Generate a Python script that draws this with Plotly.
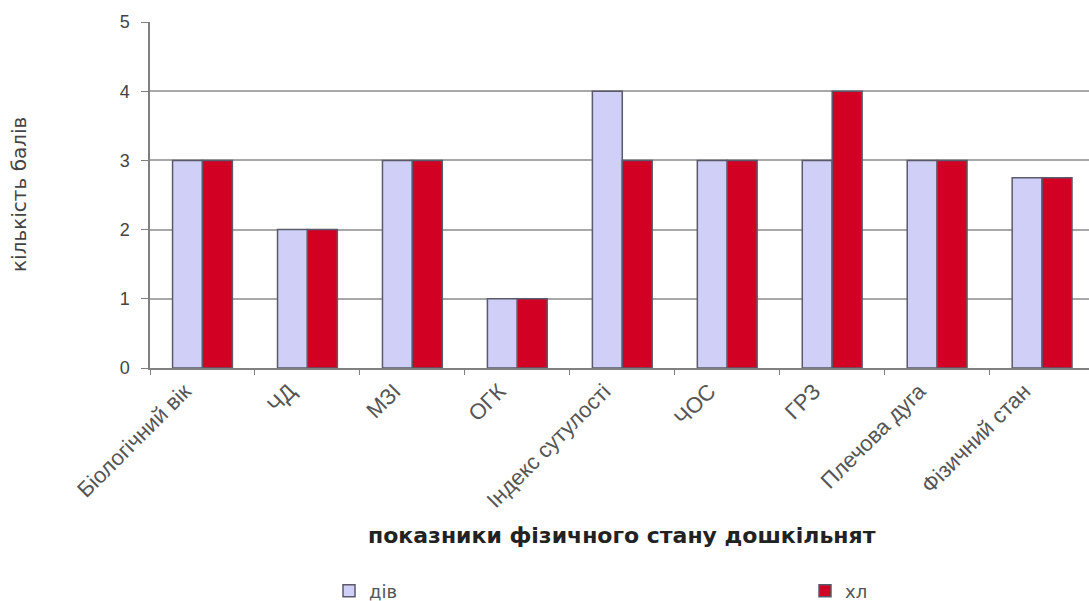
import plotly.graph_objects as go

categories = ["Біологічний вік", "ЧД", "МЗІ", "ОГК", "Індекс сутулості",
              "ЧОС", "ГРЗ", "Плечова дуга", "Фізичний стан"]
girls = [3, 2, 3, 1, 4, 3, 3, 3, 2.75]
boys = [3, 2, 3, 1, 3, 3, 4, 3, 2.75]
series_names = ["дів", "хл"]
y_ticks = [0, 1, 2, 3, 4, 5]
x_title = "показники фізичного стану дошкільнят"
y_title = "кількість балів"

W, H = 1089, 601
L, R, T, B = 150, 0, 22, 233
pw = W - L - R
ph = H - T - B

fig = go.Figure()
fig.add_trace(go.Bar(x=categories, y=girls, name=series_names[0], legend="legend",
                     marker=dict(color="#CFCFF7", line=dict(color="#5a5a6a", width=1.5))))
fig.add_trace(go.Bar(x=categories, y=boys, name=series_names[1], legend="legend2",
                     marker=dict(color="#D20023", line=dict(color="#5a5a6a", width=1.5))))

def px_x(x):
    return (x - L) / pw

def px_y(y):
    return (H - B - y) / ph

legend_font = dict(family="DejaVu Sans", size=18, color="#555")

fig.update_layout(
    width=W, height=H,
    margin=dict(l=L, r=R, t=T, b=B, autoexpand=False),
    paper_bgcolor="white", plot_bgcolor="white",
    barmode="group", bargap=0.43, bargroupgap=0,
    font=dict(family="Liberation Sans, Arial, sans-serif", color="#333"),
    showlegend=True,
    legend=dict(orientation="h", x=px_x(329), y=px_y(591), xanchor="left", yanchor="middle",
                font=legend_font, bgcolor="rgba(0,0,0,0)"),
    legend2=dict(orientation="h", x=px_x(805), y=px_y(591), xanchor="left", yanchor="middle",
                 font=legend_font, bgcolor="rgba(0,0,0,0)"),
    xaxis=dict(
        range=[-0.5, 8.447], type="category",
        showline=True, linecolor="#808080", linewidth=1.5,
        ticks="outside", ticklen=5, tickcolor="#808080", tickson="boundaries",
        tickangle=-45, ticklabelshift=-18,
        tickfont=dict(family="Liberation Sans", size=22, color="#555"),
        showgrid=False, automargin=False,
    ),
    yaxis=dict(
        range=[0, 5], tickvals=y_ticks,
        showline=True, linecolor="#808080", linewidth=1.5,
        ticks="outside", ticklen=7, tickcolor="#808080",
        showgrid=True, gridcolor="#A8A8A8", gridwidth=1.5,
        zeroline=False, ticklabelstandoff=8,
        tickfont=dict(family="Liberation Sans", size=18, color="#444"),
        automargin=False,
    ),
    annotations=[
        dict(text=x_title, xref="paper", yref="paper", x=px_x(622), y=px_y(535),
             xanchor="center", yanchor="middle", showarrow=False,
             font=dict(family="DejaVu Sans", size=22, color="#222", weight="bold")),
        dict(text=y_title, xref="paper", yref="paper", x=px_x(19), y=px_y(195),
             xanchor="center", yanchor="middle", showarrow=False, textangle=-90,
             font=dict(family="DejaVu Sans", size=20, color="#444")),
    ],
)

fig.write_html("out.html")
